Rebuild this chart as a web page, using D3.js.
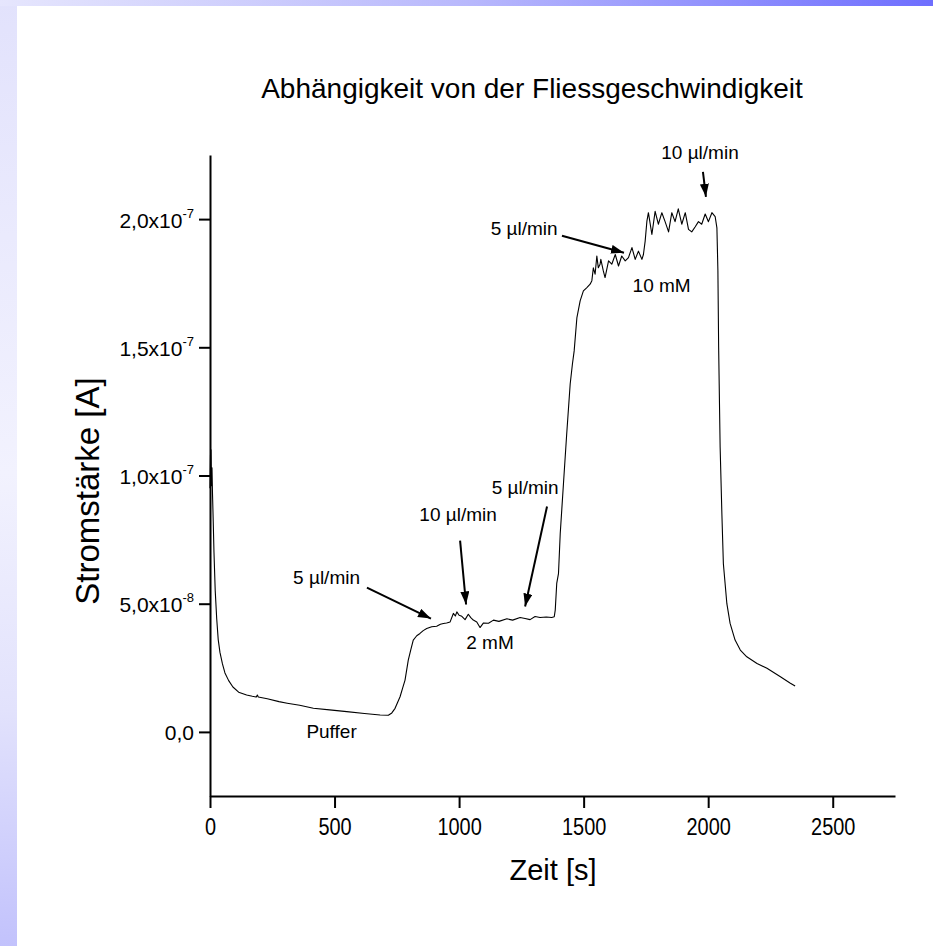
<!DOCTYPE html>
<html>
<head>
<meta charset="utf-8">
<script src="https://cdn.jsdelivr.net/npm/d3@7/dist/d3.min.js"></script>
<style>
  html, body { margin: 0; padding: 0; background: #ffffff; }
  svg { display: block; font-family: "Liberation Sans", Arial, Helvetica, sans-serif; }
</style>
</head>
<body>
<svg id="chart" width="933" height="946"></svg>
<script>
// Messzeit in Sekunden
const zeit = [
  0, 2, 4, 6, 8, 10, 13, 16, 21, 27, 33, 40, 50, 60, 75, 92, 115, 147, 170, 186,
  190, 194, 230, 277, 310, 360, 415, 480, 549, 620, 683, 716, 730, 743, 753, 763,
  773, 783, 796, 806, 816, 830, 843, 856, 870, 890, 910, 925, 937, 950, 964, 977,
  985, 991, 1000, 1011, 1024, 1037, 1047, 1057, 1071, 1084, 1098, 1118, 1138, 1160,
  1192, 1215, 1245, 1265, 1285, 1305, 1325, 1350, 1372, 1382, 1386, 1392, 1399, 1406,
  1419, 1432, 1446, 1455, 1462, 1473, 1486, 1499, 1512, 1526, 1533, 1539, 1546, 1553,
  1559, 1566, 1569, 1579, 1586, 1600, 1613, 1627, 1640, 1653, 1667, 1680, 1694, 1707,
  1720, 1734, 1740, 1747, 1754, 1760, 1774, 1787, 1800, 1814, 1827, 1841, 1854, 1867,
  1880, 1894, 1908, 1921, 1934, 1948, 1961, 1974, 1988, 2001, 2015, 2028, 2035, 2039,
  2042, 2048, 2055, 2061, 2075, 2088, 2108, 2129, 2155, 2196, 2236, 2290, 2330, 2349
];

// Stromstärke in nA (1 nA = 1e-9 A)
const strom = [
  95, 108, 110, 96, 103, 93, 82, 70, 55, 44, 36, 31, 26.5, 23, 20, 17.5, 15.5, 14.4, 13.9, 13.6,
  14.4, 13.6, 12.9, 11.8, 11.2, 10.4, 9.2, 8.6, 7.9, 7.2, 6.6, 6.5, 7.4, 9.2, 11.5, 13.7,
  17, 20.2, 28, 32, 35.8, 37.5, 38.4, 39.5, 40.3, 41, 41.2, 42, 42.3, 42.5, 42.9, 46.2,
  45.2, 46.8, 45.5, 45.1, 43.8, 45.9, 44.6, 43.6, 42.9, 40.7, 42.5, 42.4, 43.6, 43.1,
  44.1, 43.6, 44.6, 44.2, 43.8, 45, 44.6, 44.8, 44.6, 44.9, 47.5, 57.9, 61.7, 77.3,
  96.8, 116.2, 135.7, 143.5, 148.6, 161.6, 168.1, 172, 173.2, 174.6, 176, 181, 178.5, 185.6,
  181, 182.4, 184.3, 179.8, 177.2, 183.7, 182.4, 186.2, 181.7, 185.6, 183.7, 185, 188.9, 184.3,
  187.5, 184.3, 186.2, 191.4, 199.2, 202.5, 194, 203, 198, 202.5, 199, 195, 202.5, 199,
  204, 198, 202.5, 196, 195, 197, 199, 198, 202, 199, 202.5, 201, 196.6, 180,
  150, 111, 85, 65.6, 50, 42.3, 35.8, 31.9, 29.3, 26.7, 24.8, 21.5, 19, 17.9
];

// Achsenbeschriftungen
const xTickValues = [0, 500, 1000, 1500, 2000, 2500];
const xMinorValues = [250, 750, 1250, 1750, 2250, 2750];
const yTickValues = [0, 50, 100, 150, 200];            // nA
const yMinorValues = [-25, 25, 75, 125, 175, 225];      // nA
const yTickMantissa = ["0,0", "5,0x10", "1,0x10", "1,5x10", "2,0x10"];
const yTickExponent = ["", "-8", "-7", "-7", "-7"];

// Anmerkungen im Diagramm (Zeit in s, Strom in nA)
const noteText = ["Puffer", "5 µl/min", "10 µl/min", "5 µl/min", "2 mM", "5 µl/min", "10 µl/min", "10 mM"];
const noteZeit = [488, 468, 996, 1265, 1124, 1261, 1967, 1813];
const noteStrom = [-2.5, 57.5, 82.4, 92.6, 32.2, 193.9, 223.5, 171.7];

// Pfeile: Start und Spitze (Zeit in s, Strom in nA)
const arrowFromZeit = [630, 1004, 1353, 1413, 1979];
const arrowFromStrom = [56.3, 74.6, 87.9, 193.5, 218.4];
const arrowToZeit = [887, 1028, 1265, 1662, 1991];
const arrowToStrom = [44.2, 49.7, 48.9, 186.9, 208.7];

const svg = d3.select("#chart");
const W = 933, H = 946;

// Hintergrund mit Farbverlauf am Rand
const defs = svg.append("defs");
const gLeft = defs.append("linearGradient").attr("id", "randLinks")
  .attr("x1", 0).attr("y1", 0).attr("x2", 0).attr("y2", 1);
[[0, "#e2e2fc"], [0.5, "#f2f2fe"], [0.75, "#e2e2fc"], [1, "#c2c2fc"]].forEach(s =>
  gLeft.append("stop").attr("offset", s[0]).attr("stop-color", s[1]));
const gTop = defs.append("linearGradient").attr("id", "randOben")
  .attr("x1", 0).attr("y1", 0).attr("x2", 1).attr("y2", 0);
[[0, "#e6e6fd"], [0.5, "#b8b8fc"], [1, "#6e6efe"]].forEach(s =>
  gTop.append("stop").attr("offset", s[0]).attr("stop-color", s[1]));

svg.append("rect").attr("width", W).attr("height", H).attr("fill", "#ffffff");
svg.append("rect").attr("x", 0).attr("y", 0).attr("width", 17).attr("height", H).attr("fill", "url(#randLinks)");
svg.append("rect").attr("x", 0).attr("y", 0).attr("width", W).attr("height", 6).attr("fill", "url(#randOben)");

const plot = { left: 210, right: 895, top: 155, bottom: 796 };

const x = d3.scaleLinear().domain([0, 2750]).range([plot.left, plot.right]);
const y = d3.scaleLinear().domain([-25, 225]).range([plot.bottom, plot.top]);

// Arrowhead marker
defs.append("marker").attr("id", "pfeil")
  .attr("markerUnits", "userSpaceOnUse")
  .attr("markerWidth", 14).attr("markerHeight", 10)
  .attr("refX", 13).attr("refY", 4.5)
  .attr("orient", "auto")
  .append("path").attr("d", "M0,0 L13,4.5 L0,9 Z").attr("fill", "#000");

// Title
svg.append("text")
  .attr("x", 532).attr("y", 98)
  .attr("text-anchor", "middle")
  .attr("font-size", 28)
  .attr("fill", "#000")
  .text("Abhängigkeit von der Fliessgeschwindigkeit");

// x axis
const xAxisG = svg.append("g").attr("transform", `translate(0,${plot.bottom})`);
xAxisG.call(d3.axisBottom(x).tickValues(xMinorValues).tickSize(7).tickSizeOuter(0).tickFormat(""));
xAxisG.call(d3.axisBottom(x).tickValues(xTickValues).tickSize(12).tickSizeOuter(0).tickFormat(d3.format("d")));
xAxisG.selectAll("path.domain").attr("stroke-width", 2).attr("stroke", "#000");
xAxisG.selectAll(".tick line").attr("stroke-width", 2).attr("stroke", "#000");
xAxisG.selectAll(".tick text")
  .attr("y", 22).attr("dy", "0.71em")
  .attr("font-size", 24)
  .attr("font-family", "'Liberation Sans', Arial, sans-serif")
  .attr("fill", "#000")
  .attr("transform", "scale(0.83,1)");

// y axis
const yAxisG = svg.append("g").attr("transform", `translate(${plot.left},0)`);
yAxisG.call(d3.axisLeft(y).tickValues(yMinorValues).tickSize(6).tickSizeOuter(0).tickFormat(""));
yAxisG.call(d3.axisLeft(y).tickValues(yTickValues).tickSize(11).tickSizeOuter(0).tickFormat(""));
yAxisG.selectAll("path.domain").attr("stroke-width", 2).attr("stroke", "#000");
yAxisG.selectAll(".tick line").attr("stroke-width", 2).attr("stroke", "#000");

const yLab = svg.append("g").attr("font-size", 21).attr("fill", "#000");
yTickValues.forEach((v, i) => {
  const t = yLab.append("text")
    .attr("x", plot.left - 16)
    .attr("y", y(v) + 8.5)
    .attr("text-anchor", "end");
  t.append("tspan").text(yTickMantissa[i]);
  if (yTickExponent[i]) {
    t.append("tspan").attr("dy", -10).attr("font-size", 13).text(yTickExponent[i]);
  }
});

// axis titles
svg.append("text")
  .attr("x", 553).attr("y", 880)
  .attr("text-anchor", "middle")
  .attr("font-size", 29)
  .attr("fill", "#000")
  .text("Zeit [s]");

svg.append("text")
  .attr("transform", "translate(99,491) rotate(-90)")
  .attr("text-anchor", "middle")
  .attr("font-size", 33)
  .attr("fill", "#000")
  .text("Stromstärke [A]");

// measured curve
const line = d3.line().x((d, i) => x(zeit[i])).y((d, i) => y(strom[i]));
svg.append("path")
  .datum(strom)
  .attr("d", line)
  .attr("fill", "none")
  .attr("stroke", "#000")
  .attr("stroke-width", 1.1)
  .attr("stroke-linejoin", "round");

// arrows
arrowFromZeit.forEach((t0, i) => {
  svg.append("line")
    .attr("x1", x(t0)).attr("y1", y(arrowFromStrom[i]))
    .attr("x2", x(arrowToZeit[i])).attr("y2", y(arrowToStrom[i]))
    .attr("stroke", "#000").attr("stroke-width", 2)
    .attr("marker-end", "url(#pfeil)");
});

// annotations
noteText.forEach((s, i) => {
  svg.append("text")
    .attr("x", x(noteZeit[i])).attr("y", y(noteStrom[i]))
    .attr("text-anchor", "middle")
    .attr("font-size", 19)
    .attr("fill", "#000")
    .text(s);
});
</script>
</body>
</html>
